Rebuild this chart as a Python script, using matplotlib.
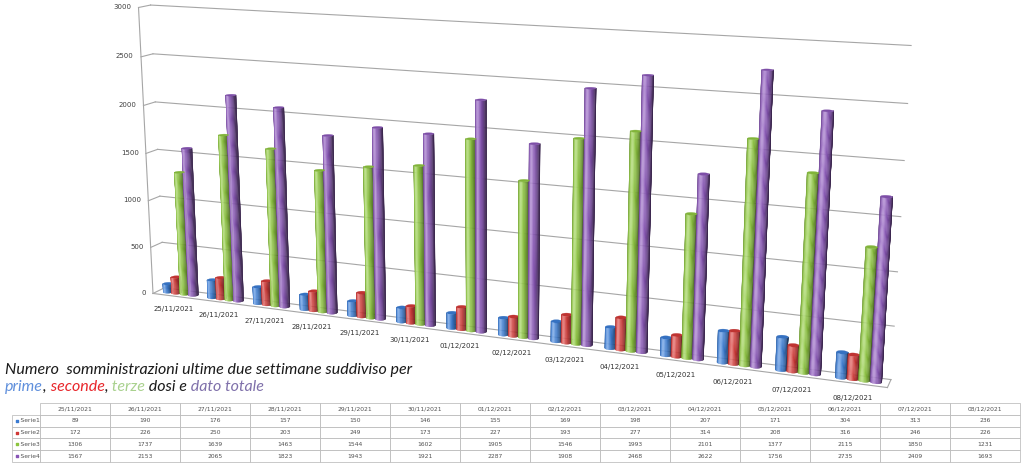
import numpy as np
import matplotlib
matplotlib.use("Agg")
import matplotlib.pyplot as plt
from mpl_toolkits.mplot3d import proj3d
from mpl_toolkits.mplot3d.art3d import Poly3DCollection

dates = ["25/11/2021", "26/11/2021", "27/11/2021", "28/11/2021", "29/11/2021",
         "30/11/2021", "01/12/2021", "02/12/2021", "03/12/2021", "04/12/2021",
         "05/12/2021", "06/12/2021", "07/12/2021", "08/12/2021"]
series_names = ["Serie1", "Serie2", "Serie3", "Serie4"]
serie1 = [89, 190, 176, 157, 150, 146, 155, 169, 198, 207, 171, 304, 313, 236]
serie2 = [172, 226, 250, 203, 249, 173, 227, 193, 277, 314, 208, 316, 246, 226]
serie3 = [1306, 1737, 1639, 1463, 1544, 1602, 1905, 1546, 1993, 2101, 1377, 2115, 1850, 1231]
serie4 = [1567, 2153, 2065, 1823, 1943, 1921, 2287, 1908, 2468, 2622, 1756, 2735, 2409, 1693]
z_ticks = [0, 500, 1000, 1500, 2000, 2500, 3000]

series = [serie1, serie2, serie3, serie4]
colors = ["#3a7bd2", "#d03836", "#8cc43e", "#8855b6"]

# camera fitted to the reference perspective
ELEV, AZIM, FOC = 13.32, -68.40, 0.2914
ZOOM, ZBOX, D = 0.8136, 5.557, 0.3997
R = 0.095      # cylinder radius
STEP = 0.19    # distance between cylinders in a cluster
GRID = "#a6a6a6"

W, H = 1024, 466
fig = plt.figure(figsize=(W / 100, H / 100), dpi=100)

# 3d axes are square: make the square as wide as the figure, centred on the chart
cx, cy, side = 478.5, 466 - 196.3, 1024
ax = fig.add_axes([(cx - side / 2) / W, (cy - side / 2) / H, side / W, side / H],
                  projection="3d")
ax.set_axis_off()
ax.set_xticks([])
ax.set_yticks([])
ax.set_zticks([])
ax.computed_zorder = False
ax.view_init(elev=ELEV, azim=AZIM)
ax.set_proj_type("persp", focal_length=FOC)

n = len(dates)
xmin, xmax = -0.5, n - 0.5
ax.set_xlim(xmin, xmax)
ax.set_ylim(0, D)
ax.set_zlim(0, 3000)
ax.set_box_aspect((xmax - xmin, D, ZBOX), zoom=ZOOM)
M = ax.get_proj()


def label3d(x, y, z, s, **kw):
    # project the 3d anchor, then place an ordinary text in the axes' 2d data space
    px, py, _ = proj3d.proj_transform(x, y, z, M)
    ax.text2D(px, py, s, transform=ax.transData, **kw)


# walls: gridlines on the back wall and the left side wall
for z in z_ticks:
    ax.plot([xmin, xmax], [D, D], [z, z], color=GRID, lw=0.8, zorder=1)
    ax.plot([xmin, xmin], [0, D], [z, z], color=GRID, lw=0.8, zorder=1)
    label3d(xmin - 0.16, 0, z, str(z), ha="right", va="center", fontsize=5,
            color="#404040", zorder=6)
ax.plot([xmin, xmin], [0, 0], [0, 3000], color=GRID, lw=0.8, zorder=1)
# floor edges
ax.plot([xmin, xmax], [0, 0], [0, 0], color=GRID, lw=0.8, zorder=1)
ax.plot([xmax, xmax], [0, D], [0, 0], color=GRID, lw=0.8, zorder=1)

# shading of the cylinders
az = np.radians(AZIM)
view = np.array([np.cos(az), np.sin(az)])
laz = az - np.radians(35)
light = np.array([np.cos(laz), np.sin(laz)])


def shade(c, k):
    rgb = np.array(matplotlib.colors.to_rgb(c))
    return tuple(np.clip(rgb * k, 0, 1))


def spec(c, s):
    rgb = np.array(c)
    return tuple(np.clip(rgb + (1 - rgb) * s, 0, 1))


faces, fcols = [], []
th = np.linspace(0, 2 * np.pi, 33)
for k, vals in enumerate(series):
    for i, h in enumerate(vals):
        xc = i + (k - 1.5) * STEP
        yc = D / 2
        for a0, a1 in zip(th[:-1], th[1:]):
            am = (a0 + a1) / 2
            nrm = np.array([np.cos(am), np.sin(am)])
            if nrm @ view < -0.15:
                continue
            faces.append([(xc + R * np.cos(a0), yc + R * np.sin(a0), 0),
                          (xc + R * np.cos(a1), yc + R * np.sin(a1), 0),
                          (xc + R * np.cos(a1), yc + R * np.sin(a1), h),
                          (xc + R * np.cos(a0), yc + R * np.sin(a0), h)])
            d = max(0.0, nrm @ light)
            c = shade(colors[k], 0.42 + 0.62 * d)
            fcols.append(spec(c, 0.35 * d ** 12))
        faces.append([(xc + R * np.cos(a), yc + R * np.sin(a), h) for a in th[:-1]])
        fcols.append(shade(colors[k], 0.92))

bars = Poly3DCollection(faces, facecolors=fcols, edgecolors=fcols, linewidths=0.2,
                        zorder=5)
ax.add_collection3d(bars)

for i, lab in enumerate(dates):
    label3d(i - 0.05, 0, -140, lab, ha="center", va="center", fontsize=5,
            color="#333333", zorder=6)

# title on two lines, the second one coloured word by word
ax2 = fig.add_axes([0, 0, 1, 1])
ax2.set_axis_off()
ax2.set_xticks([])
ax2.set_yticks([])
tfont = dict(fontsize=11.5, style="italic", family="Lato")
ax2.text(0.005, 0.197, "Numero  somministrazioni ultime due settimane suddiviso per",
         color="#1a1a1a", va="baseline", transform=ax2.transAxes, **tfont)
parts = [("prime", "#5f8fdc"), (",", "#1a1a1a"), (" seconde", "#e8262b"), (",", "#1a1a1a"),
         (" terze", "#a9d18e"), (" dosi e", "#1a1a1a"), (" dato totale", "#7f70aa")]
prev = ax2.text(0.005, 0.161, parts[0][0], color=parts[0][1], va="baseline",
                transform=ax2.transAxes, **tfont)
for txt, col in parts[1:]:
    prev = ax2.annotate(txt, xy=(1, 0.161), xycoords=(prev, "axes fraction"),
                        color=col, va="baseline", ha="left", **tfont)

# data table
ax_tab = fig.add_axes([12 / W, 4 / H, 1008 / W, 59 / H])
ax_tab.set_axis_off()
ax_tab.set_xticks([])
ax_tab.set_yticks([])
cell_text = [[""] + dates]
for name, vals in zip(series_names, series):
    cell_text.append(["    " + name] + [str(v) for v in vals])
col_w = [28] + [70] * n
tab = ax_tab.table(cellText=cell_text, colWidths=[c / sum(col_w) for c in col_w],
                   cellLoc="center", bbox=[0, 0, 1, 1])
tab.auto_set_font_size(False)
for (r, c), cell in tab.get_celld().items():
    cell.set_edgecolor("#b4b4b4")
    cell.set_linewidth(0.5)
    cell.get_text().set_fontsize(4.3)
    cell.get_text().set_color("#505050")
    if c == 0:
        cell.get_text().set_ha("left")
        cell._loc = "left"
        cell.PAD = 0.02
    if r == 0 and c == 0:
        cell.visible_edges = ""
for r, col in enumerate(colors, start=1):
    ax_tab.scatter(0.005, 1 - (r + 0.5) * 0.2, s=3, marker="s", color=col,
                   transform=ax_tab.transAxes, clip_on=False)

fig.savefig("out.png", dpi=100)
